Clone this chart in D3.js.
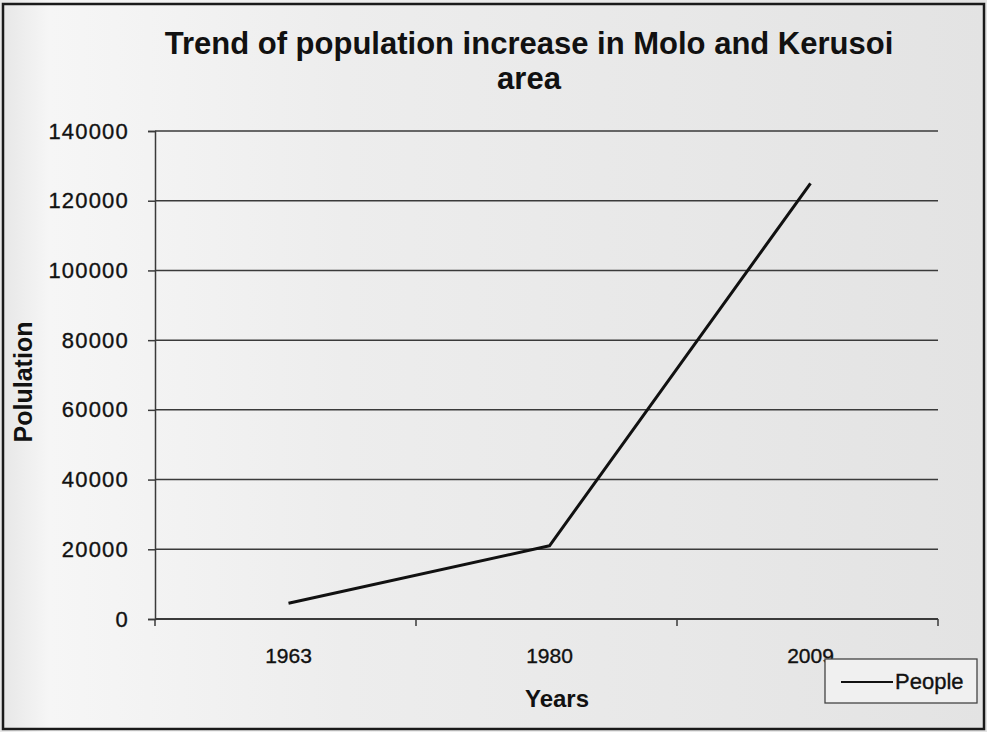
<!DOCTYPE html>
<html>
<head>
<meta charset="utf-8">
<script src="https://cdn.jsdelivr.net/npm/d3@7"></script>
<style>
  html, body { margin: 0; padding: 0; background: #e4e4e4; }
  svg { display: block; }
  text { font-family: "Liberation Sans", Arial, sans-serif; fill: #111; }
  text.reg { stroke: #111; stroke-width: 0.35px; }
</style>
</head>
<body>
<svg id="chart" width="987" height="732"></svg>
<script>
// Population of Molo and Kerusoi area by census year
const years = ["1963", "1980", "2009"];
const people = [4500, 21000, 125000];
const yTicks = [0, 20000, 40000, 60000, 80000, 100000, 120000, 140000];
const seriesName = "People";
const titleLines = ["Trend of population increase in Molo and Kerusoi", "area"];

const svg = d3.select("#chart");
const W = 987, H = 732;
const margin = { left: 155, right: 49, top: 131, bottom: 113 };

// paper background, brighter towards the left
const defs = svg.append("defs");
const grad = defs.append("linearGradient").attr("id", "paper").attr("x1", 0).attr("x2", 1).attr("y1", 0).attr("y2", 0);
grad.append("stop").attr("offset", "0%").attr("stop-color", "#e6e6e6");
grad.append("stop").attr("offset", "5%").attr("stop-color", "#f6f6f6");
grad.append("stop").attr("offset", "35%").attr("stop-color", "#ededed");
grad.append("stop").attr("offset", "100%").attr("stop-color", "#e3e3e3");
svg.append("rect").attr("width", W).attr("height", H).attr("fill", "url(#paper)");

// outer frame
svg.append("rect").attr("x", 3).attr("y", 4).attr("width", W - 6).attr("height", H - 7)
  .attr("fill", "none").attr("stroke", "#1a1a1a").attr("stroke-width", 2.5);

const x = d3.scaleBand().domain(years).range([margin.left, W - margin.right]).padding(0);
const y = d3.scaleLinear().domain([0, 140000]).range([H - margin.bottom, margin.top]);

// horizontal gridlines
svg.append("g").selectAll("line").data(yTicks.slice(1)).join("line")
  .attr("x1", margin.left).attr("x2", W - margin.right)
  .attr("y1", d => y(d)).attr("y2", d => y(d))
  .attr("stroke", "#3a3a3a").attr("stroke-width", 1.5);

// y axis
const yAxis = svg.append("g").attr("transform", `translate(${margin.left},0)`)
  .call(d3.axisLeft(y).tickValues(yTicks).tickFormat(d3.format("d")).tickSize(7).tickPadding(19));
yAxis.select(".domain").attr("stroke", "#3a3a3a").attr("stroke-width", 1.5);
yAxis.selectAll(".tick line").attr("stroke", "#3a3a3a").attr("stroke-width", 1.5);
yAxis.selectAll(".tick text").attr("class", "reg")
  .style("font-size", "22px").style("letter-spacing", "1.2px").attr("fill", "#111");

// x axis: ticks at band boundaries, labels at band centres
const xAxisG = svg.append("g").attr("transform", `translate(0,${y(0)})`);
xAxisG.append("line").attr("x1", margin.left).attr("x2", W - margin.right)
  .attr("stroke", "#3a3a3a").attr("stroke-width", 1.8);
const bounds = years.map(d => x(d)).concat([x(years[years.length - 1]) + x.bandwidth()]);
xAxisG.selectAll("line.tk").data(bounds).join("line").attr("class", "tk")
  .attr("x1", d => d).attr("x2", d => d).attr("y1", 0).attr("y2", 7)
  .attr("stroke", "#3a3a3a").attr("stroke-width", 1.5);
xAxisG.selectAll("text").data(years).join("text").attr("class", "reg")
  .attr("x", d => x(d) + x.bandwidth() / 2 + 3).attr("y", 44)
  .attr("text-anchor", "middle").style("font-size", "21px").text(d => d);

// series line
const line = d3.line().x((d, i) => x(years[i]) + x.bandwidth() / 2 + 3).y(d => y(d));
svg.append("path").datum(people).attr("d", line)
  .attr("fill", "none").attr("stroke", "#111").attr("stroke-width", 3).attr("stroke-linejoin", "round");

// title
svg.append("g").selectAll("text").data(titleLines).join("text")
  .attr("x", 529).attr("y", (d, i) => 54 + i * 35)
  .attr("text-anchor", "middle").style("font-size", "31px").style("font-weight", "bold")
  .text(d => d);

// axis titles
svg.append("text").attr("x", 557).attr("y", 707).attr("text-anchor", "middle")
  .style("font-size", "24px").style("font-weight", "bold").text("Years");
svg.append("text").attr("transform", "translate(32,382) rotate(-90)").attr("text-anchor", "middle")
  .style("font-size", "25px").style("font-weight", "bold").text("Polulation");

// legend
const lg = svg.append("g").attr("transform", "translate(825,659)");
lg.append("rect").attr("width", 152).attr("height", 44).attr("fill", "#f0f0f0")
  .attr("stroke", "#444").attr("stroke-width", 1.3);
lg.append("line").attr("x1", 16).attr("x2", 68).attr("y1", 23).attr("y2", 23)
  .attr("stroke", "#111").attr("stroke-width", 2);
lg.append("text").attr("class", "reg").attr("x", 70).attr("y", 30).style("font-size", "22px").text(seriesName);
</script>
</body>
</html>
